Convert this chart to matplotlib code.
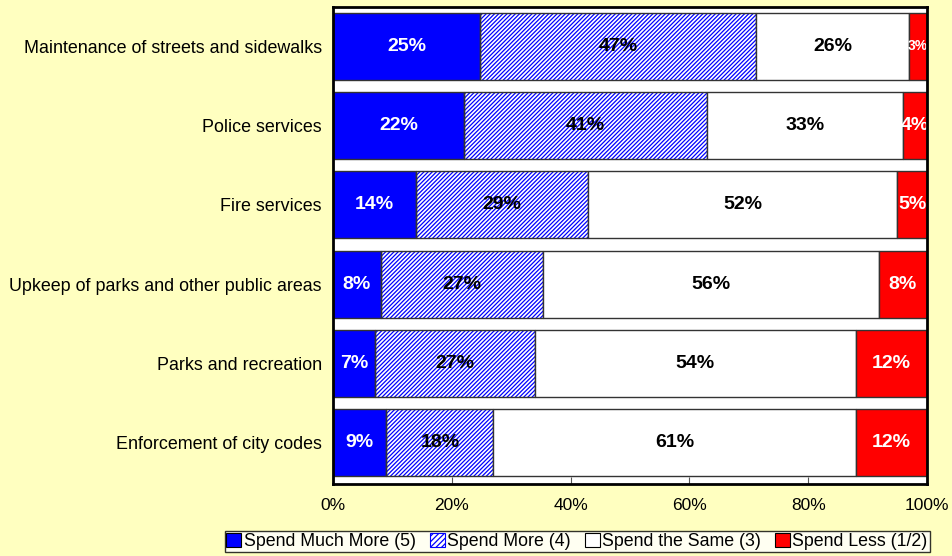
import matplotlib
matplotlib.use("Agg")
import matplotlib.pyplot as plt
import numpy as np

categories = [
    "Maintenance of streets and sidewalks",
    "Police services",
    "Fire services",
    "Upkeep of parks and other public areas",
    "Parks and recreation",
    "Enforcement of city codes",
]
much_more = [25, 22, 14, 8, 7, 9]
more = [47, 41, 29, 27, 27, 18]
same = [26, 33, 52, 56, 54, 61]
less = [3, 4, 5, 8, 12, 12]
series_names = ["Spend Much More (5)", "Spend More (4)", "Spend the Same (3)", "Spend Less (1/2)"]
x_ticks = [0, 20, 40, 60, 80, 100]

plt.rcParams["font.family"] = ["Liberation Sans", "DejaVu Sans"]
plt.rcParams["hatch.linewidth"] = 0.9

BG = "#FFFFC0"
fig = plt.figure(figsize=(9.53, 5.56), dpi=100, facecolor=BG)
ax = fig.add_axes([0.3494, 0.1295, 0.6233, 0.858])
ax.set_facecolor("white")

data = np.array([much_more, more, same, less], dtype=float)
shares = data / data.sum(axis=0) * 100
y = np.arange(len(categories))
h = 0.846
left = np.zeros(len(categories))

styles = [
    dict(color="#0000FF", hatch=None, text="white"),
    dict(color="white", hatch="////////", text="black"),
    dict(color="white", hatch=None, text="black"),
    dict(color="#FF0000", hatch=None, text="white"),
]

handles = []
for i, st in enumerate(styles):
    w = shares[i]
    if st["hatch"]:
        ax.barh(y, w, left=left, height=h, color="white", edgecolor="#0000FF",
                hatch=st["hatch"], linewidth=0, zorder=2)
        ax.barh(y, w, left=left, height=h, fill=False, edgecolor="#333333",
                linewidth=1.0, zorder=3)
        hnd = plt.Rectangle((0, 0), 1, 1, facecolor="white", edgecolor="#0000FF",
                            hatch="//////", linewidth=0.8)
    else:
        ax.barh(y, w, left=left, height=h, color=st["color"], edgecolor="#333333",
                linewidth=1.0, zorder=3)
        hnd = plt.Rectangle((0, 0), 1, 1, facecolor=st["color"], edgecolor="black",
                            linewidth=0.8)
    handles.append(hnd)
    for j in range(len(categories)):
        val = int(data[i, j])
        fs = 10 if w[j] < 3.5 else 14
        ax.text(left[j] + w[j] / 2, y[j], f"{val}%", ha="center", va="center",
                color=st["text"], fontsize=fs, fontweight="bold", zorder=5)
    left += w

ax.set_xlim(0, 100)
ax.set_ylim(5.524, -0.499)
ax.set_yticks(y)
ax.set_yticklabels(categories, fontsize=12.9)
ax.set_xticks(x_ticks)
ax.set_xticklabels([f"{t}%" for t in x_ticks], fontsize=12.5)
ax.tick_params(axis="y", length=0, pad=8)
ax.tick_params(axis="x", direction="in", length=5, color="#555555", pad=10)
for s in ax.spines.values():
    s.set_color("black")
    s.set_linewidth(2)
    s.set_zorder(6)

leg = fig.legend(handles, series_names, loc="center", bbox_to_anchor=(0.6055, 0.026),
                 ncol=4, fontsize=12.8, frameon=True, fancybox=False,
                 handlelength=0.85, handleheight=0.85, handletextpad=0.12,
                 columnspacing=0.8, borderpad=0.1, borderaxespad=0)
leg.get_frame().set_edgecolor("black")
leg.get_frame().set_linewidth(1.0)
leg.get_frame().set_facecolor("white")

fig.savefig("out.png", dpi=100, facecolor=BG)
